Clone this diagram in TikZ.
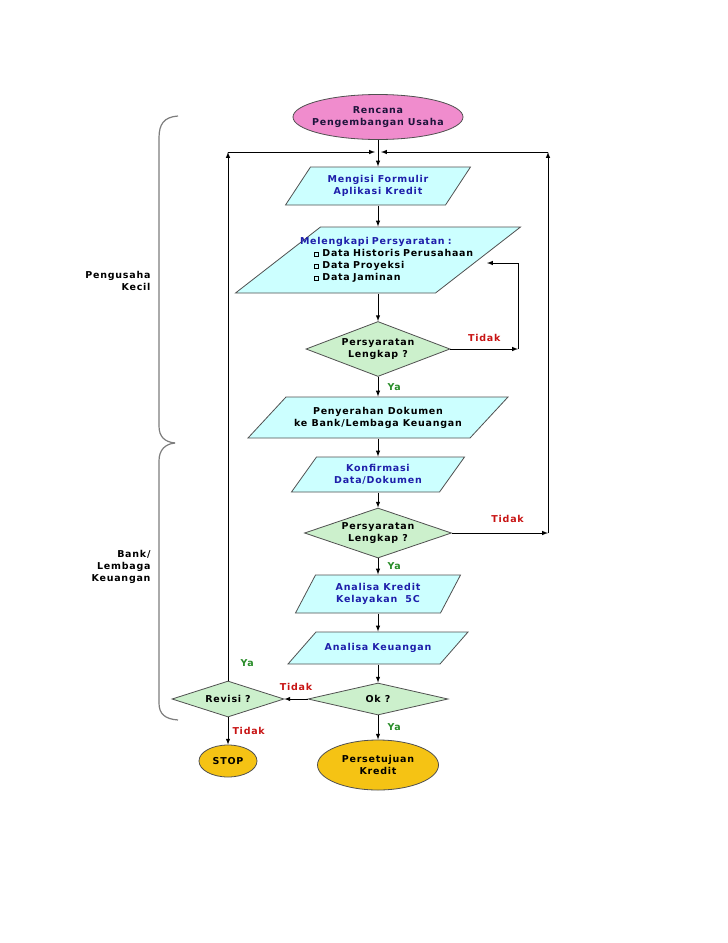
\documentclass[tikz,border=0pt]{standalone}
\usepackage{fontspec}
\setmainfont{DejaVu Sans}
\newfontfamily\lbl{DejaVu Sans Bold}[LetterSpace=8]
\usetikzlibrary{shapes.geometric}
\definecolor{pinkfill}{RGB}{240,140,205}
\definecolor{cyanfill}{RGB}{204,255,255}
\definecolor{greenfill}{RGB}{204,240,204}
\definecolor{goldfill}{RGB}{245,195,20}
\definecolor{edgegray}{RGB}{80,80,80}
\definecolor{bracegray}{RGB}{125,125,125}
\definecolor{bluetext}{RGB}{30,30,170}
\definecolor{navytext}{RGB}{30,20,60}
\definecolor{tidakred}{RGB}{200,20,20}
\definecolor{yagreen}{RGB}{40,140,40}
\newcommand\kotak{\raisebox{0.3pt}{\setlength\fboxsep{0pt}\setlength\fboxrule{0.8pt}\fbox{\rule{0pt}{3.6pt}\rule{3.6pt}{0pt}}}}
\begin{document}
\begin{tikzpicture}[x=1pt,y=-1pt,>=latex]
\tikzset{FontStyle/.style = {font=\lbl\fontsize{9.5}{12}\selectfont},
  TextStyle/.style = {FontStyle,align=center,inner sep=0pt},
  TermStyle/.style = {TextStyle,ellipse,draw=edgegray,line width=0.8pt},
  ParaStyle/.style = {draw=edgegray,fill=cyanfill,line width=0.8pt},
  DecStyle/.style = {TextStyle,diamond,draw=edgegray,fill=greenfill,line width=0.8pt,inner xsep=-30pt,inner ysep=-8pt},
  BraceStyle/.style = {draw=bracegray,line width=1.2pt},
  YaStyle/.style = {FontStyle,text=yagreen,inner sep=0pt},
  TidakStyle/.style = {FontStyle,text=tidakred,inner sep=0pt},
  every path/.append style = {line width=1pt}}
\useasboundingbox (0,0) rectangle (728,943);
\fill[white] (0,0) rectangle (728,943);
% braces
\draw[BraceStyle] (178,116) .. controls (164,117) and (159,124) .. (159,138) -- (159,426) .. controls (159,437) and (165,442) .. (175,443);
\draw[BraceStyle] (175,443) .. controls (165,444) and (159,450) .. (159,461) -- (159,703) .. controls (159,714) and (165,719) .. (178,720);
\node[TextStyle,align=right,anchor=east] (14) at (151,281) {Pengusaha\\Kecil};
\node[TextStyle,align=right,anchor=east] (15) at (151,567) {Bank/\\Lembaga\\Keuangan};
% parallelograms
\draw[ParaStyle] (285.5,205) -- (445.5,205) -- (470.5,167) -- (310.5,167) -- cycle;
\draw[ParaStyle] (235.5,293) -- (435.5,293) -- (520.5,227) -- (320.5,227) -- cycle;
\draw[ParaStyle] (248,438) -- (470,438) -- (508,397) -- (286,397) -- cycle;
\draw[ParaStyle] (291.5,492) -- (439.5,492) -- (464.5,457) -- (316.5,457) -- cycle;
\draw[ParaStyle] (295.5,613) -- (440.5,613) -- (460.5,575) -- (315.5,575) -- cycle;
\draw[ParaStyle] (288,664) -- (440,664) -- (468,632) -- (316,632) -- cycle;
% nodes
\node[TermStyle,fill=pinkfill,text=navytext,minimum width=170,minimum height=45,inner xsep=-30pt] (1) at (378,117) {Rencana\\Pengembangan Usaha};
\node[TextStyle,text=bluetext,minimum height=38] (2) at (378,186) {Mengisi Formulir\\Aplikasi Kredit};
\node[TextStyle,align=left,text width=200,minimum height=66] (3) at (378,260)
  {\hspace*{22pt}\textcolor{bluetext}{Melengkapi Persyaratan :}\\
   \hspace*{36pt}\kotak\ Data Historis Perusahaan\\
   \hspace*{36pt}\kotak\ Data Proyeksi\\
   \hspace*{36pt}\kotak\ Data Jaminan};
\node[DecStyle,minimum width=144,minimum height=55] (4) at (378,349) {Persyaratan\\Lengkap ?};
\node[TextStyle,minimum height=41] (5) at (378,417.5) {Penyerahan Dokumen\\ke Bank/Lembaga Keuangan};
\node[TextStyle,text=bluetext,minimum height=35] (6) at (378,474.5) {Konfirmasi\\Data/Dokumen};
\node[DecStyle,minimum width=147,minimum height=50] (7) at (378,533) {Persyaratan\\Lengkap ?};
\node[TextStyle,text=bluetext,minimum height=38] (8) at (378,594) {Analisa Kredit\\Kelayakan\ \ 5C};
\node[TextStyle,text=bluetext,minimum height=32] (9) at (378,648) {Analisa Keuangan};
\node[DecStyle,minimum width=140,minimum height=32] (10) at (378,699) {Ok ?};
\node[DecStyle,minimum width=112,minimum height=36] (11) at (228,699) {Revisi ?};
\node[TermStyle,fill=goldfill,minimum width=58,minimum height=32] (12) at (228,761) {STOP};
\node[TermStyle,fill=goldfill,minimum width=121,minimum height=50] (13) at (378,765) {Persetujuan\\Kredit};
% loop corners
\coordinate (a) at (228,152); \coordinate (b) at (548,152);
\coordinate (c) at (548,533); \coordinate (d) at (518,349);
\coordinate (e) at (518,263); \coordinate (f) at (487,263);
\coordinate (g) at (375,152); \coordinate (h) at (381,152);
% connectors
\draw[->] (1) -- (2);
\draw[->] (2) -- (3);
\draw[->] (3) -- (4);
\draw[->] (4) -- node[YaStyle,right=9pt] (y1) {Ya} (5);
\draw[->] (5) -- (6);
\draw[->] (6) -- (7);
\draw[->] (7) -- node[YaStyle,right=9pt] (y2) {Ya} (8);
\draw[->] (8) -- (9);
\draw[->] (9) -- (10);
\draw[->] (10) -- node[YaStyle,right=9pt] (y3) {Ya} (13);
\draw[->] (10) -- node[TidakStyle,above=8pt] (t3) {Tidak} (11);
\draw[->] (11) -- node[TidakStyle,right=4pt] (t4) {Tidak} (12);
\draw[->] (11) -- node[YaStyle,pos=0.034,right=12pt] (y4) {Ya} (a);
\draw[->] (a) -- (g);
\draw[->] (4) -- node[TidakStyle,above=7pt] (t1) {Tidak} (d);
\draw[->] (d) -- (e) -- (f);
\draw[->] (7) -- node[TidakStyle,above=10pt,pos=0.58] (t2) {Tidak} (c);
\draw[->] (c) -- (b);
\draw[->] (b) -- (h);
\end{tikzpicture}
\end{document}
